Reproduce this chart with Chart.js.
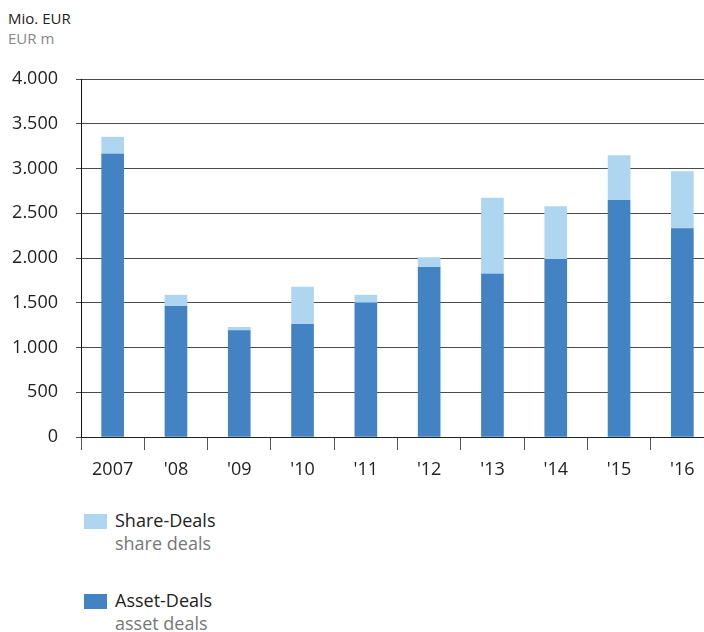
<!DOCTYPE html>
<html>
<head>
<meta charset="utf-8">
<script src="https://cdn.jsdelivr.net/npm/chart.js@4/dist/chart.umd.min.js"></script>
<style>
  body {
    margin: 0;
    width: 704px;
    height: 632px;
    overflow: hidden;
    position: relative;
    background: #fff;
    font-family: 'Open Sans', sans-serif;
    color: #222;
  }
  #chart { position: absolute; left: 0; top: 0; }
  .unit { position: absolute; left: 8px; font-size: 15px; line-height: 20px; }
  .unit.sub { color: #888; }
  .legend-item { position: absolute; left: 84px; }
  .legend-item .box { position: absolute; left: 0; width: 23px; height: 15px; }
  .legend-item .name { position: absolute; left: 31px; top: -5px; font-size: 18px; line-height: 23px; white-space: nowrap; }
  .legend-item .sub { position: absolute; left: 31px; top: 18px; font-size: 18px; line-height: 23px; color: #777; white-space: nowrap; }
</style>
</head>
<body>
<div class="unit" style="top:8px">Mio. EUR</div>
<div class="unit sub" style="top:28px">EUR m</div>
<canvas id="chart" width="720" height="490"></canvas>
<div id="legend"></div>

<script>
// Years on the x axis
const years = ['2007', "'08", "'09", "'10", "'11", "'12", "'13", "'14", "'15", "'16"];

// Transaction volume in EUR m
const assetDeals = [3160, 1460, 1190, 1260, 1500, 1895, 1820, 1985, 2645, 2330];
const shareDeals = [190, 125, 35, 415, 85, 110, 850, 590, 500, 635];

const seriesNames = ['Asset-Deals', 'Share-Deals'];
const seriesNamesEn = ['asset deals', 'share deals'];
const seriesColors = ['#4383c4', '#aed6f1'];

const yMin = 0;
const yMax = 4000;
const yStep = 500;

// 4000 -> "4.000"
function formatThousands(value) {
  return String(value).replace(/\B(?=(\d{3})+(?!\d))/g, '.');
}

const ctx = document.getElementById('chart').getContext('2d');

const myChart = new Chart(ctx, {
  type: 'bar',
  data: {
    labels: years,
    datasets: [
      {
        label: seriesNames[0],
        data: assetDeals,
        backgroundColor: seriesColors[0],
        barThickness: 22
      },
      {
        label: seriesNames[1],
        data: shareDeals,
        backgroundColor: seriesColors[1],
        barThickness: 22
      }
    ]
  },
  options: {
    responsive: false,
    animation: false,
    layout: {
      padding: { top: 79, right: 6, bottom: 0, left: 0 }
    },
    plugins: {
      legend: { display: false },
      tooltip: { enabled: false }
    },
    scales: {
      x: {
        stacked: true,
        afterFit: scale => { scale.height = 53; },
        grid: {
          offset: true,
          drawOnChartArea: false,
          tickLength: 13,
          color: '#555'
        },
        border: { color: '#222', width: 1 },
        ticks: {
          color: '#222',
          padding: 9,
          font: { family: 'Open Sans', size: 18 },
          maxRotation: 0
        }
      },
      y: {
        stacked: true,
        min: yMin,
        max: yMax,
        afterFit: scale => { scale.width = 81; },
        grid: {
          color: '#4a4a4a',
          tickLength: 5
        },
        border: { color: '#111', width: 1 },
        ticks: {
          stepSize: yStep,
          color: '#222',
          padding: 18,
          font: { family: 'Open Sans', size: 18 },
          callback: value => formatThousands(value)
        }
      }
    }
  }
});

// Legend below the chart, share deals listed first
const legend = document.getElementById('legend');
const legendOrder = [1, 0];
const legendTops = [514, 594];
legendOrder.forEach((idx, i) => {
  const item = document.createElement('div');
  item.className = 'legend-item';
  item.style.top = legendTops[i] + 'px';
  item.innerHTML = `
    <div class="box" style="background:${seriesColors[idx]}"></div>
    <div class="name">${seriesNames[idx]}</div>
    <div class="sub">${seriesNamesEn[idx]}</div>
  `;
  legend.appendChild(item);
});
</script>
</body>
</html>
